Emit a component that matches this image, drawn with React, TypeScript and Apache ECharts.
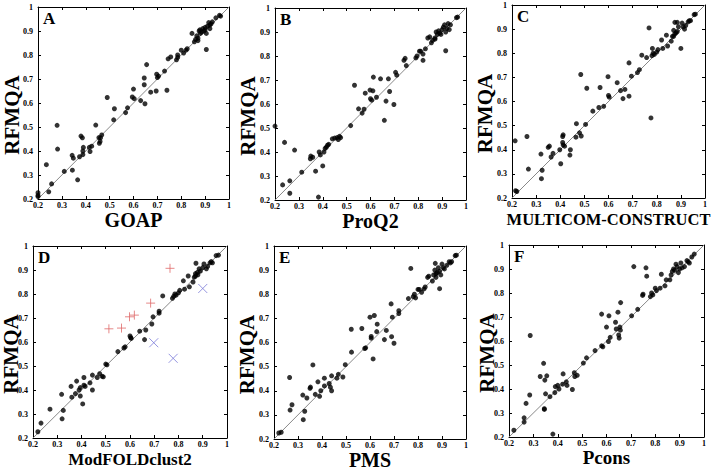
import React, { useEffect, useRef } from "react";
import * as echarts from "echarts";

const tickValues = [0.2, 0.3, 0.4, 0.5, 0.6, 0.7, 0.8, 0.9, 1];
const panelLetters = ["A", "B", "C", "D", "E", "F"];
const xTitles = ["GOAP", "ProQ2", "MULTICOM-CONSTRUCT", "ModFOLDclust2", "PMS", "Pcons"];
const yTitle = "RFMQA";

const goapPoints = [
  [0.2,0.226],[0.2,0.215],[0.2,0.21],[0.235,0.343],[0.245,0.23],[0.257,0.263],[0.28,0.507],[0.282,0.408],[0.31,0.315],[0.343,0.382],[0.344,0.32],[0.348,0.37],[0.366,0.28],[0.374,0.376],[0.38,0.462],[0.386,0.455],[0.388,0.4],[0.388,0.385],[0.39,0.415],[0.415,0.415],[0.418,0.398],[0.425,0.42],[0.442,0.508],[0.455,0.456],[0.457,0.432],[0.46,0.44],[0.462,0.455],[0.467,0.467],[0.49,0.623],[0.517,0.53],[0.52,0.576],[0.567,0.56],[0.575,0.58],[0.595,0.625],[0.6,0.658],[0.603,0.618],[0.63,0.61],[0.645,0.704],[0.645,0.676],[0.648,0.597],[0.655,0.76],[0.672,0.645],[0.695,0.65],[0.697,0.72],[0.7,0.706],[0.705,0.712],[0.73,0.733],[0.74,0.653],[0.745,0.784],[0.756,0.792],[0.78,0.78],[0.785,0.79],[0.785,0.8],[0.8,0.82],[0.81,0.808],[0.82,0.82],[0.825,0.826],[0.845,0.89],[0.855,0.855],[0.86,0.865],[0.865,0.88],[0.87,0.87],[0.875,0.9],[0.878,0.905],[0.88,0.89],[0.885,0.895],[0.89,0.91],[0.895,0.9],[0.9,0.905],[0.905,0.823],[0.905,0.89],[0.91,0.92],[0.915,0.935],[0.92,0.925],[0.925,0.93],[0.93,0.938],[0.945,0.955],[0.965,0.962],[0.96,0.965],[0.87,0.86],[0.9,0.915],[0.92,0.91]
];
const proq2Points = [
  [0.2,0.508],[0.232,0.263],[0.24,0.44],[0.262,0.28],[0.262,0.228],[0.282,0.408],[0.312,0.316],[0.348,0.372],[0.35,0.383],[0.358,0.378],[0.37,0.32],[0.382,0.212],[0.385,0.4],[0.39,0.388],[0.4,0.342],[0.405,0.4],[0.41,0.415],[0.415,0.42],[0.42,0.428],[0.425,0.432],[0.44,0.455],[0.45,0.458],[0.46,0.46],[0.465,0.452],[0.47,0.465],[0.475,0.46],[0.517,0.51],[0.533,0.678],[0.55,0.58],[0.565,0.562],[0.573,0.578],[0.578,0.645],[0.598,0.658],[0.6,0.622],[0.605,0.616],[0.61,0.655],[0.612,0.712],[0.625,0.628],[0.642,0.705],[0.658,0.532],[0.665,0.612],[0.675,0.705],[0.68,0.652],[0.698,0.598],[0.705,0.732],[0.71,0.72],[0.74,0.782],[0.745,0.79],[0.75,0.76],[0.79,0.792],[0.795,0.8],[0.805,0.82],[0.81,0.82],[0.82,0.782],[0.82,0.808],[0.83,0.83],[0.84,0.875],[0.848,0.88],[0.855,0.855],[0.86,0.865],[0.87,0.875],[0.875,0.9],[0.88,0.89],[0.885,0.905],[0.89,0.895],[0.9,0.91],[0.905,0.92],[0.91,0.93],[0.915,0.822],[0.915,0.9],[0.92,0.915],[0.925,0.935],[0.93,0.91],[0.935,0.93],[0.96,0.96],[0.965,0.962],[0.87,0.87],[0.895,0.89]
];
const multicomPoints = [
  [0.213,0.437],[0.215,0.23],[0.22,0.227],[0.262,0.455],[0.268,0.32],[0.32,0.382],[0.322,0.28],[0.325,0.315],[0.35,0.41],[0.355,0.415],[0.362,0.37],[0.37,0.385],[0.398,0.4],[0.402,0.342],[0.41,0.43],[0.41,0.455],[0.412,0.462],[0.412,0.42],[0.418,0.415],[0.44,0.378],[0.442,0.4],[0.465,0.452],[0.467,0.508],[0.48,0.47],[0.485,0.712],[0.487,0.457],[0.505,0.505],[0.51,0.655],[0.535,0.56],[0.56,0.575],[0.565,0.658],[0.58,0.58],[0.598,0.703],[0.6,0.625],[0.603,0.618],[0.636,0.678],[0.65,0.645],[0.66,0.612],[0.668,0.65],[0.685,0.622],[0.685,0.76],[0.695,0.705],[0.72,0.72],[0.728,0.732],[0.738,0.792],[0.758,0.782],[0.768,0.905],[0.776,0.532],[0.78,0.79],[0.782,0.82],[0.785,0.8],[0.79,0.795],[0.8,0.805],[0.805,0.815],[0.82,0.855],[0.825,0.82],[0.84,0.875],[0.845,0.83],[0.86,0.85],[0.865,0.87],[0.87,0.895],[0.875,0.928],[0.875,0.88],[0.88,0.885],[0.885,0.928],[0.89,0.91],[0.9,0.82],[0.905,0.925],[0.91,0.91],[0.915,0.9],[0.92,0.915],[0.93,0.93],[0.935,0.935],[0.94,0.935],[0.955,0.96],[0.96,0.962],[0.87,0.87],[0.885,0.89]
];
const modfoldPoints = [
  [0.22,0.226],[0.233,0.262],[0.27,0.32],[0.318,0.382],[0.32,0.28],[0.325,0.315],[0.357,0.415],[0.36,0.37],[0.375,0.385],[0.38,0.437],[0.39,0.4],[0.395,0.41],[0.395,0.375],[0.405,0.342],[0.41,0.452],[0.41,0.42],[0.415,0.415],[0.435,0.43],[0.445,0.4],[0.445,0.462],[0.465,0.452],[0.475,0.468],[0.485,0.457],[0.49,0.455],[0.5,0.508],[0.505,0.505],[0.55,0.56],[0.575,0.575],[0.58,0.58],[0.6,0.625],[0.603,0.618],[0.605,0.615],[0.64,0.645],[0.66,0.61],[0.665,0.65],[0.69,0.675],[0.695,0.705],[0.72,0.72],[0.72,0.728],[0.735,0.792],[0.775,0.782],[0.78,0.79],[0.785,0.8],[0.79,0.795],[0.8,0.805],[0.805,0.815],[0.82,0.855],[0.825,0.82],[0.84,0.875],[0.845,0.83],[0.86,0.85],[0.865,0.87],[0.87,0.885],[0.872,0.928],[0.878,0.89],[0.885,0.905],[0.89,0.895],[0.9,0.91],[0.905,0.925],[0.915,0.905],[0.92,0.915],[0.93,0.93],[0.935,0.935],[0.94,0.93],[0.955,0.96],[0.965,0.962],[0.87,0.875],[0.88,0.88]
];
const modfoldPlus = [[0.513,0.655],[0.565,0.658],[0.598,0.705],[0.618,0.712],[0.685,0.762],[0.765,0.907]];
const modfoldCross = [[0.698,0.597],[0.778,0.532],[0.9,0.823]];
const pmsPoints = [
  [0.22,0.225],[0.23,0.228],[0.265,0.455],[0.267,0.32],[0.275,0.342],[0.32,0.382],[0.322,0.28],[0.328,0.315],[0.337,0.37],[0.35,0.41],[0.352,0.415],[0.362,0.507],[0.372,0.385],[0.383,0.437],[0.39,0.377],[0.395,0.4],[0.41,0.452],[0.41,0.42],[0.43,0.43],[0.435,0.415],[0.44,0.4],[0.44,0.462],[0.462,0.452],[0.468,0.468],[0.487,0.457],[0.497,0.508],[0.522,0.655],[0.523,0.56],[0.566,0.658],[0.578,0.575],[0.582,0.578],[0.6,0.705],[0.605,0.625],[0.605,0.618],[0.618,0.712],[0.613,0.532],[0.628,0.645],[0.63,0.676],[0.66,0.612],[0.668,0.65],[0.688,0.76],[0.69,0.624],[0.693,0.705],[0.7,0.597],[0.72,0.72],[0.72,0.732],[0.76,0.782],[0.77,0.907],[0.78,0.79],[0.785,0.8],[0.79,0.785],[0.8,0.82],[0.805,0.82],[0.815,0.808],[0.825,0.822],[0.83,0.83],[0.84,0.87],[0.845,0.875],[0.86,0.855],[0.865,0.88],[0.87,0.9],[0.872,0.928],[0.875,0.885],[0.88,0.89],[0.885,0.91],[0.89,0.823],[0.89,0.895],[0.9,0.925],[0.905,0.91],[0.91,0.905],[0.92,0.92],[0.93,0.935],[0.935,0.93],[0.94,0.935],[0.955,0.96],[0.96,0.962],[0.875,0.87],[0.895,0.88]
];
const pconsPoints = [
  [0.197,0.226],[0.22,0.228],[0.262,0.28],[0.262,0.262],[0.27,0.34],[0.285,0.375],[0.287,0.623],[0.328,0.452],[0.342,0.507],[0.345,0.318],[0.345,0.315],[0.347,0.437],[0.35,0.38],[0.355,0.455],[0.368,0.368],[0.38,0.212],[0.388,0.385],[0.39,0.41],[0.4,0.415],[0.405,0.4],[0.42,0.42],[0.422,0.463],[0.435,0.43],[0.438,0.415],[0.46,0.398],[0.468,0.468],[0.47,0.452],[0.48,0.457],[0.505,0.508],[0.518,0.53],[0.553,0.56],[0.58,0.712],[0.58,0.58],[0.585,0.576],[0.6,0.658],[0.608,0.598],[0.61,0.705],[0.615,0.615],[0.637,0.678],[0.64,0.65],[0.647,0.72],[0.65,0.625],[0.652,0.612],[0.655,0.658],[0.657,0.645],[0.658,0.76],[0.703,0.705],[0.712,0.91],[0.728,0.732],[0.748,0.79],[0.75,0.795],[0.762,0.905],[0.765,0.87],[0.78,0.785],[0.785,0.8],[0.79,0.792],[0.8,0.82],[0.805,0.81],[0.82,0.82],[0.825,0.878],[0.84,0.83],[0.845,0.855],[0.86,0.855],[0.865,0.875],[0.87,0.89],[0.875,0.9],[0.88,0.895],[0.885,0.92],[0.89,0.91],[0.895,0.885],[0.9,0.9],[0.905,0.925],[0.91,0.905],[0.92,0.91],[0.93,0.935],[0.935,0.93],[0.94,0.925],[0.95,0.95],[0.96,0.962]
];
const diagonal = [[0.2, 0.2], [1, 1]];

const panelPoints = [goapPoints, proq2Points, multicomPoints, modfoldPoints, pmsPoints, pconsPoints];

const grids = [
  { left: 38, top: 7, width: 191, height: 192 },
  { left: 275, top: 8, width: 191, height: 192 },
  { left: 512, top: 5, width: 193, height: 193 },
  { left: 33, top: 246, width: 194, height: 192 },
  { left: 274, top: 246, width: 192, height: 193 },
  { left: 509, top: 245, width: 195, height: 192 },
];
const xTitleSizes = [20, 20, 16.5, 17, 20, 19];
const xTitleTop = [11, 11, 13, 13, 11, 11];
const yTitleOffsets = [26, 27, 27, 22, 27, 22];

const SERIF = '"Liberation Serif", "Times New Roman", serif';

export default function App() {
  const ref = useRef<HTMLDivElement>(null);
  useEffect(() => {
    if (!ref.current) return;
    const chart = echarts.init(ref.current, undefined, { renderer: "svg" });
    const fmt = (v: number) => (Math.abs(v - 1) < 1e-9 ? "1" : v.toFixed(1));
    const xAxes: any[] = [];
    const yAxes: any[] = [];
    const series: any[] = [];
    const graphics: any[] = [];
    grids.forEach((g, i) => {
      const base = {
        type: "value", min: 0.2, max: 1, interval: 0.1, gridIndex: i,
        axisLine: { show: true, onZero: false, lineStyle: { color: "#000", width: 1 } },
        axisTick: { show: true, inside: true, length: 3, lineStyle: { color: "#000" } },
        splitLine: { show: false },
      };
      xAxes.push({ ...base, position: "bottom",
        axisLabel: { formatter: fmt, fontFamily: SERIF, fontWeight: "bold", fontSize: 8, color: "#000", margin: 2 } });
      xAxes.push({ ...base, position: "top", axisLabel: { show: false } });
      yAxes.push({ ...base, position: "left",
        axisLabel: { formatter: fmt, fontFamily: SERIF, fontWeight: "bold", fontSize: 8, color: "#000", margin: 5 } });
      yAxes.push({ ...base, position: "right", axisLabel: { show: false } });
      series.push({ type: "line", xAxisIndex: 2 * i, yAxisIndex: 2 * i, data: diagonal, symbol: "none",
        lineStyle: { color: "#888", width: 1 }, silent: true, z: 1 });
      series.push({ type: "scatter", xAxisIndex: 2 * i, yAxisIndex: 2 * i, data: panelPoints[i],
        symbol: "circle", symbolSize: 5, itemStyle: { color: "#000" }, z: 3 });
      if (i === 3) {
        series.push({ type: "scatter", xAxisIndex: 2 * i, yAxisIndex: 2 * i, data: modfoldPlus,
          symbol: "path://M0,5L10,5M5,0L5,10", symbolSize: 9,
          itemStyle: { color: "none", borderColor: "#e06a6a", borderWidth: 1 }, z: 4 });
        series.push({ type: "scatter", xAxisIndex: 2 * i, yAxisIndex: 2 * i, data: modfoldCross,
          symbol: "path://M0,0L10,10M10,0L0,10", symbolSize: 9,
          itemStyle: { color: "none", borderColor: "#7a7ad8", borderWidth: 1 }, z: 4 });
      }
      graphics.push({ type: "text", x: g.left + 5, y: g.top + 3,
        style: { text: panelLetters[i], font: `bold 17px ${SERIF}`, fill: "#000", align: "left", verticalAlign: "top" } });
      const fs = xTitleSizes[i];
      graphics.push({ type: "text", x: g.left + g.width / 2, y: g.top + g.height + xTitleTop[i],
        style: { text: xTitles[i], font: `bold ${fs}px ${SERIF}`,
          fill: "#000", align: "center", verticalAlign: "top" } });
      graphics.push({ type: "text", x: g.left - yTitleOffsets[i], y: g.top + g.height / 2 + 12, rotation: Math.PI / 2,
        style: { text: yTitle, font: `bold 21px ${SERIF}`, lineHeight: 15, fill: "#000", align: "center", verticalAlign: "middle" } });
    });
    chart.setOption({
      animation: false,
      backgroundColor: "#fff",
      grid: grids,
      xAxis: xAxes,
      yAxis: yAxes,
      series,
      graphic: graphics,
    });
    return () => chart.dispose();
  }, []);
  return <div ref={ref} style={{ position: "fixed", left: 0, top: 0, width: 711, height: 470, background: "#fff" }} />;
}
